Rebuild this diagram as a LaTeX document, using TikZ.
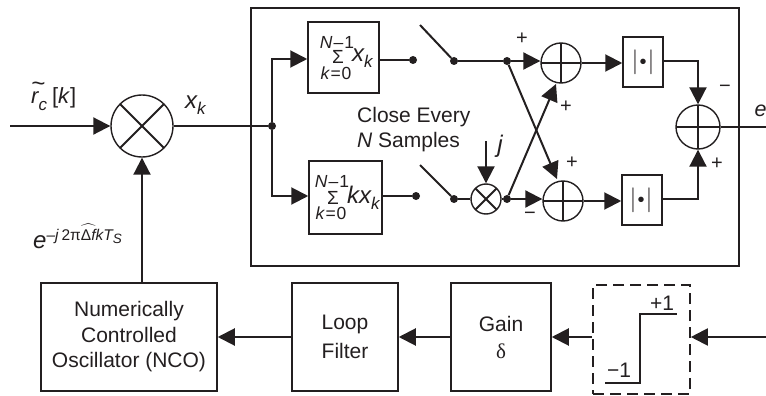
\documentclass[tikz,border=0pt]{standalone}
\usepackage{fontspec}
\usepackage{amsmath}
\setmainfont{Liberation Sans}
\newfontfamily\grfont{Liberation Serif}
\usetikzlibrary{arrows.meta}
\definecolor{ink}{HTML}{231F20}
\tikzset{
  wire/.style={line width=2pt,draw=ink},
  flow/.style={wire,-{Triangle[length=17pt,width=17pt]}},
  box/.style={draw=ink,line width=1.5pt,fill=white,inner sep=0pt,align=center,text=ink},
  xsum/.style={circle,draw=ink,line width=1.4pt,minimum size=#1,inner sep=0pt,path picture={
     \draw[ink,line width=1.4pt] (path picture bounding box.north) -- (path picture bounding box.south)
       (path picture bounding box.west) -- (path picture bounding box.east);}},
  xmul/.style={circle,draw=ink,line width=1.4pt,minimum size=#1,inner sep=0pt,path picture={
     \draw[ink,line width=1.8pt] (path picture bounding box.north west) -- (path picture bounding box.south east)
       (path picture bounding box.north east) -- (path picture bounding box.south west);}},
  dotn/.style={circle,fill=ink,inner sep=0pt,minimum size=8pt},
  lab/.style={text=ink,inner sep=0pt,font=\fontsize{21}{25}\selectfont},
  sumlim/.style={text=ink,inner sep=0pt,font=\fontsize{17.5}{18}\itshape\selectfont},
  sgn/.style={text=ink,inner sep=0pt,font=\fontsize{20}{20}\selectfont},
  absv/.style={box,minimum width=40pt,minimum height=50pt},
  blocktxt/.style={box,minimum height=108pt,font=\fontsize{21}{25.5}\selectfont},
  absglyph/.style={text=ink,inner sep=0pt,font=\fontsize{32}{32}\selectfont},
}
\newcommand{\subk}{\raisebox{-6pt}{\fontsize{17}{17}\selectfont\textit{k}}}
\newcommand{\absbars}{$|$\kern1pt{\fontsize{20}{20}\selectfont•}\kern1pt$|$}
\begin{document}
\begin{tikzpicture}[x=1pt,y=-1pt]
\useasboundingbox[clip] (0,0) rectangle (766,396);
\fill[white] (0,0) rectangle (766,396);
% outer frame
\node[draw=ink,line width=1.6pt,minimum width=488pt,minimum height=258pt,inner sep=0pt] (frame) at (495,137) {};
% mixers and adders
\node[xmul=62pt] (m1) at (142,126) {};
\node[xmul=30pt] (m2) at (486,199) {};
\node[xsum=40pt] (s1) at (561,63) {};
\node[xsum=40pt] (s2) at (563,201) {};
\node[xsum=44pt] (s3) at (698,127) {};
% boxes
\node[box,minimum width=71pt,minimum height=71pt] (b1) at (343.5,57.5) {};
\node[box,minimum width=73pt,minimum height=73pt] (b2) at (345.5,197.5) {};
\node[absv] (a1) at (643,62) {};
\node[absv] (a2) at (642,200) {};
\node[blocktxt,minimum width=176pt] (nco) at (129,337) {Numerically\\Controlled\\Oscillator (NCO)};
\node[blocktxt,minimum width=106pt,font=\fontsize{21}{29}\selectfont] (lf) at (345,337) {Loop\\Filter};
\node[blocktxt,minimum width=100pt,font=\fontsize{21}{27}\selectfont] (gain) at (501,337) {Gain\\{\grfont δ}};
\node[draw=ink,line width=1.6pt,dash pattern=on 11pt off 6pt,minimum width=97pt,minimum height=109pt,inner sep=0pt] (lim) at (641.5,339.5) {};
% points
\coordinate (in) at (10,126);
\node[dotn] (j0) at (272,126) {};
\coordinate (up) at (272,59);
\coordinate (dn) at (272,196);
\node[dotn] (c1) at (413,60) {};
\node[dotn] (p1) at (454,61) {};
\node[dotn] (q1) at (507,61) {};
\node[dotn] (c2) at (416,196) {};
\node[dotn] (p2) at (454,199) {};
\node[dotn] (q2) at (507,199) {};
\coordinate (t1) at (420,25);
\coordinate (t2) at (420,165);
\coordinate (jt) at (486,141);
\coordinate (r1) at (698,61);
\coordinate (r2) at (698,199);
\coordinate (out) at (766,127);
\coordinate (lin) at (766,337);
\coordinate (xt) at (556,84);
\coordinate (xb) at (557,179);
% wires
\draw[flow] (in) -- (m1.west);
\draw[wire] (m1.east) -- (j0);
\draw[flow] (j0) -- (up) -- (b1.west |- up);
\draw[flow] (j0) -- (dn) -- (b2.west |- dn);
\draw[wire] (b1.east |- c1) -- (c1);
\draw[wire] (b2.east |- c2) -- (c2);
\draw[wire] (t1) -- (p1);
\draw[wire] (t2) -- (p2);
\draw[wire] (p1) -- (q1);
\draw[wire] (p2) -- (m2.west);
\draw[flow] (jt) -- (m2.north);
\draw[wire] (m2.east) -- (q2);
\draw[flow] (q1) -- (s1.west |- q1);
\draw[flow] (q2) -- (s2.west |- q2);
\draw[flow] (q1) -- (xb);
\draw[flow] (q2) -- (xt);
\draw[flow] (s1.east) -- (a1.west |- s1.east);
\draw[flow] (s2.east) -- (a2.west |- s2.east);
\draw[flow] (a1.east |- r1) -- (r1) -- (s3.north);
\draw[flow] (a2.east |- r2) -- (r2) -- (s3.south);
\draw[wire] (s3.east) -- (out);
\draw[flow] (lin) -- (lim.east |- lin);
\draw[flow] (lim.west |- lin) -- (gain.east |- lin);
\draw[flow] (gain.west |- lin) -- (lf.east |- lin);
\draw[flow] (lf.west |- lin) -- (nco.east |- lin);
\draw[flow] (nco.north -| m1) -- (m1.south);
% limiter curve
\coordinate (l1) at (605,383);
\coordinate (l2) at (640,383);
\coordinate (l3) at (640,314);
\coordinate (l4) at (677,314);
\draw[ink,line width=1.5pt] (l1) -- (l2) -- (l3) -- (l4);
\node[lab] (pl) at (662,303) {+1};
\node[lab] (mi) at (619,370) {−1};
% abs labels
\node[absglyph] (ab1) at (643,62) {\absbars};
\node[absglyph] (ab2) at (641,200) {\absbars};
% sums
\node[sumlim] (n1) at (337,42) {N\kern1pt–\kern1pt\textup{1}};
\node[lab] (sg1) at (338,57) {\fontsize{19}{19}\selectfont Σ};
\node[sumlim] (k1) at (336,73) {k\kern1pt=\kern1pt\textup{0}};
\node[lab,anchor=west,font=\fontsize{24}{24}\itshape\selectfont] (x1) at (352,58) {x\subk};
\node[sumlim] (n2) at (332,181) {N\kern1pt–\kern1pt\textup{1}};
\node[lab] (sg2) at (333,198) {\fontsize{19}{19}\selectfont Σ};
\node[sumlim] (k2) at (331,213) {k\kern1pt=\kern1pt\textup{0}};
\node[lab,anchor=west,font=\fontsize{24}{24}\itshape\selectfont] (x2) at (347,198) {kx\subk};
% text
\node[lab,anchor=west] (ce) at (357,117) {Close Every};
\node[lab,anchor=west] (ns) at (357,142) {\textit{N} Samples};
\node[lab,font=\fontsize{24}{24}\itshape\selectfont] (j) at (500,146) {j};
\node[lab,anchor=base west,font=\fontsize{21.5}{24}\itshape\selectfont] (e) at (754.5,116) {e};
\node[lab,anchor=base west,font=\fontsize{24}{24}\itshape\selectfont] (xk) at (185,108) {x\subk};
\node[lab,anchor=base west,font=\fontsize{22}{23}\itshape\selectfont] (rc) at (31,103) {%
  \rlap{\raisebox{12pt}{\fontsize{24}{24}\selectfont\textasciitilde}}%
  r\raisebox{-7pt}{\fontsize{17}{17}\selectfont c}\kern5pt\textup{[}k\textup{]}};
\node[lab,anchor=base west,font=\fontsize{24}{24}\itshape\selectfont] (ex) at (33,248) {e%
  \raisebox{8pt}{\fontsize{15.5}{16}\selectfont –j\kern3pt\textup{2π}$\widehat{\hbox{\textup{Δ}\textit{f}}}$kT\raisebox{-3pt}{\fontsize{13.5}{14}\selectfont S}}};
\node[sgn] (p1a) at (522,39) {+};
\node[sgn] (p1b) at (566,107) {+};
\node[sgn] (p2a) at (572,163) {+};
\node[sgn] (m2a) at (530,216) {−};
\node[sgn] (m3a) at (725,89) {−};
\node[sgn] (p3a) at (717,164) {+};
\end{tikzpicture}
\end{document}
